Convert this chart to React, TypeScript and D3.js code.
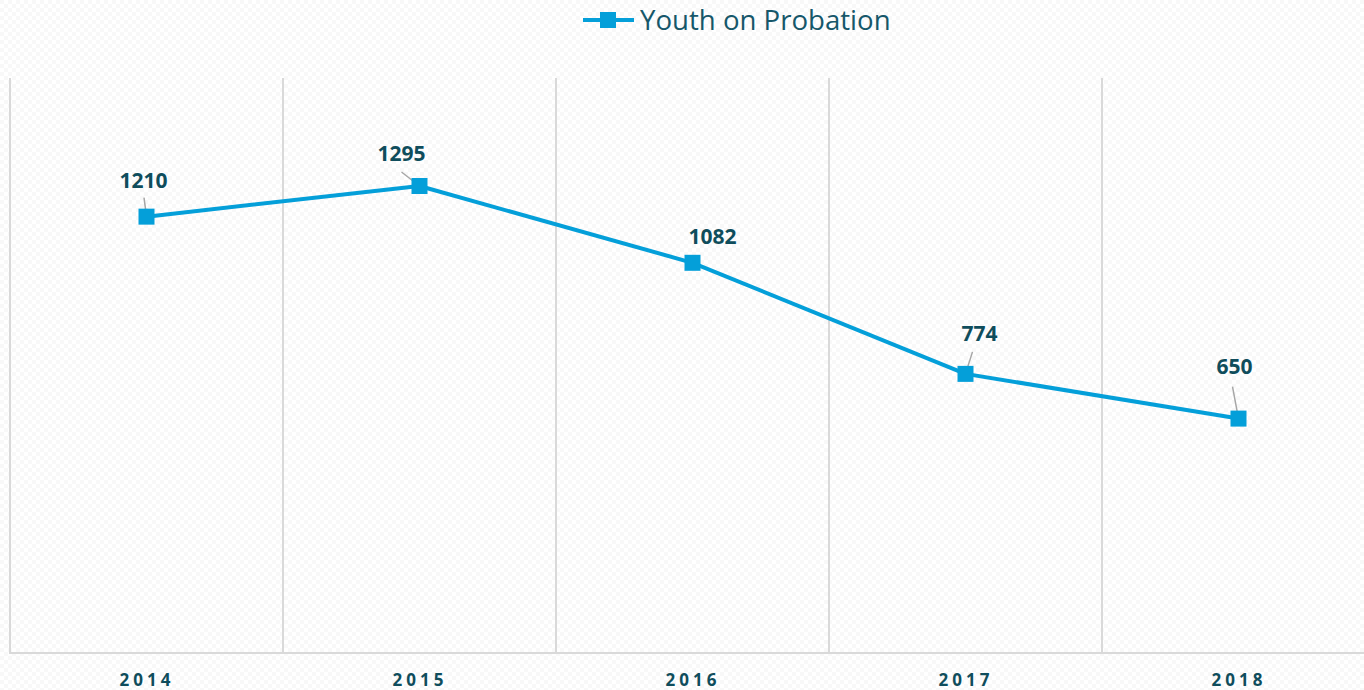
import React from 'react';
import { scaleBand, scaleLinear, line } from 'd3';

const years = ['2014', '2015', '2016', '2017', '2018'];
const youth = [1210, 1295, 1082, 774, 650];
// label offsets relative to the point (dx, dy) and leader line ends
const labelDx = [-3, -18, 20, 14, -4];
const labelDy = [-29, -25, -19, -33, -45];
const leaderDx = [-2.5, -18, 0, 7, -6];
const leaderDy = [-19, -14, 0, -22, -32];
const showLeader = [true, true, false, true, true];

const width = 1364;
const height = 690;

const App = () => {
    const xScale = scaleBand()
        .domain(years)
        .range([10, 1375])
        .padding(0);

    const yScale = scaleLinear()
        .domain([0, 1600])
        .range([653, 76]);

    const cx = (y: string) => (xScale(y) as number) + xScale.bandwidth() / 2;

    const pts = years.map((y, i) => ({ x: cx(y), y: yScale(youth[i]), v: youth[i] }));

    const lineGen = line<{ x: number; y: number }>()
        .x(d => d.x)
        .y(d => d.y);

    const color = '#049fd9';
    const textColor = '#0f4d5c';

    return (
        <svg width={width} height={height} style={{ position: 'absolute', left: 0, top: 0 }}>
            <defs>
                <pattern id="bg" width="8" height="8" patternUnits="userSpaceOnUse">
                    <rect width="8" height="8" fill="#ffffff" />
                    <rect width="4" height="4" fill="#f8f8f8" />
                    <rect x="4" y="4" width="4" height="4" fill="#f8f8f8" />
                </pattern>
            </defs>
            <rect width={width} height={height} fill="url(#bg)" />

            {/* legend */}
            <g>
                <line x1={583} x2={634} y1={20} y2={20} stroke={color} strokeWidth={4} />
                <rect x={600} y={12} width={16} height={16} fill={color} />
                <text x={640} y={29.5} fontFamily="Open Sans" fontSize={27.6} fill="#16576a">
                    Youth on Probation
                </text>
            </g>

            {/* vertical gridlines */}
            {years.map(y => (
                <line key={y}
                    x1={xScale(y)} x2={xScale(y)} y1={78} y2={653}
                    stroke="#d9d9d9" strokeWidth={2} />
            ))}
            <line x1={1375} x2={1375} y1={78} y2={653} stroke="#d9d9d9" strokeWidth={2} />
            <line x1={9} x2={width} y1={653} y2={653} stroke="#d9d9d9" strokeWidth={2} />

            {/* x axis labels */}
            {years.map(y => (
                <text key={y} x={cx(y) + 0.5} y={685.5} textAnchor="middle"
                    fontFamily="Open Sans" fontWeight="bold" fontSize={17}
                    letterSpacing={4} fill={textColor}>
                    {y}
                </text>
            ))}

            {/* series line */}
            <path d={lineGen(pts) as string} fill="none" stroke={color} strokeWidth={4} strokeLinejoin="round" />

            {/* leader lines */}
            {pts.map((p, i) => showLeader[i] ? (
                <line key={'l' + i}
                    x1={p.x} y1={p.y}
                    x2={p.x + leaderDx[i]} y2={p.y + leaderDy[i]}
                    stroke="#a6a6a6" strokeWidth={1.5} />
            ) : null)}

            {/* markers */}
            {pts.map((p, i) => (
                <rect key={'m' + i} x={p.x - 8} y={p.y - 8} width={16} height={16} fill={color} />
            ))}

            {/* data labels */}
            {pts.map((p, i) => (
                <text key={'t' + i} x={p.x + labelDx[i]} y={p.y + labelDy[i]} textAnchor="middle"
                    fontFamily="Open Sans" fontWeight="bold" fontSize={21} fill={textColor}>
                    {p.v}
                </text>
            ))}
        </svg>
    );
};

export default App;
